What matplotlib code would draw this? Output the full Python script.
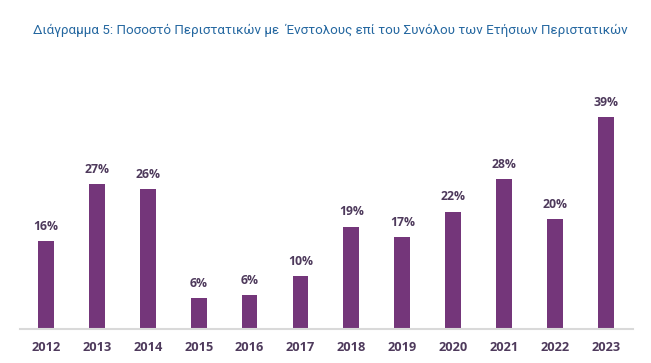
import matplotlib
matplotlib.use("Agg")
import matplotlib.pyplot as plt

years = ["2012", "2013", "2014", "2015", "2016", "2017",
         "2018", "2019", "2020", "2021", "2022", "2023"]
shares = [16.2, 26.6, 25.7, 5.7, 6.2, 9.7, 18.8, 16.9, 21.6, 27.6, 20.2, 39.0]
title = "Διάγραμμα 5: Ποσοστό Περιστατικών με  Ένστολους επί του Συνόλου των Ετήσιων Περιστατικών"

barColor = "#74367A"
labelColor = "#4E3A5C"

fig = plt.figure(figsize=(6.51, 3.63), dpi=100)
ax = fig.add_axes([0.0307, 0.0937, 0.9415, 0.674])

x = range(len(years))
ax.bar(x, shares, width=0.31, color=barColor, zorder=2)
for i, v in zip(x, shares):
    ax.annotate(f"{round(v)}%", (i, v), xytext=(0, 6), textcoords="offset points",
                ha="center", va="bottom", fontsize=8.8, fontweight="bold",
                color=labelColor, family="Open Sans")

ax.set_xlim(-0.51, 11.53)
ax.set_ylim(0, 45)
ax.set_xticks(list(x))
ax.set_xticklabels(years, fontsize=9.2, fontweight="bold", color=labelColor, family="Open Sans")
ax.tick_params(axis="x", length=0, pad=9)
ax.set_yticks([])
for side in ["top", "right", "left"]:
    ax.spines[side].set_visible(False)
ax.spines["bottom"].set_color("#D9D9D9")
ax.spines["bottom"].set_linewidth(1.5)

fig.text(0.051, 0.917, title, fontsize=9.65, color="#2467A0", family="Roboto",
         ha="left", va="center")

fig.savefig("out.png", dpi=100)
